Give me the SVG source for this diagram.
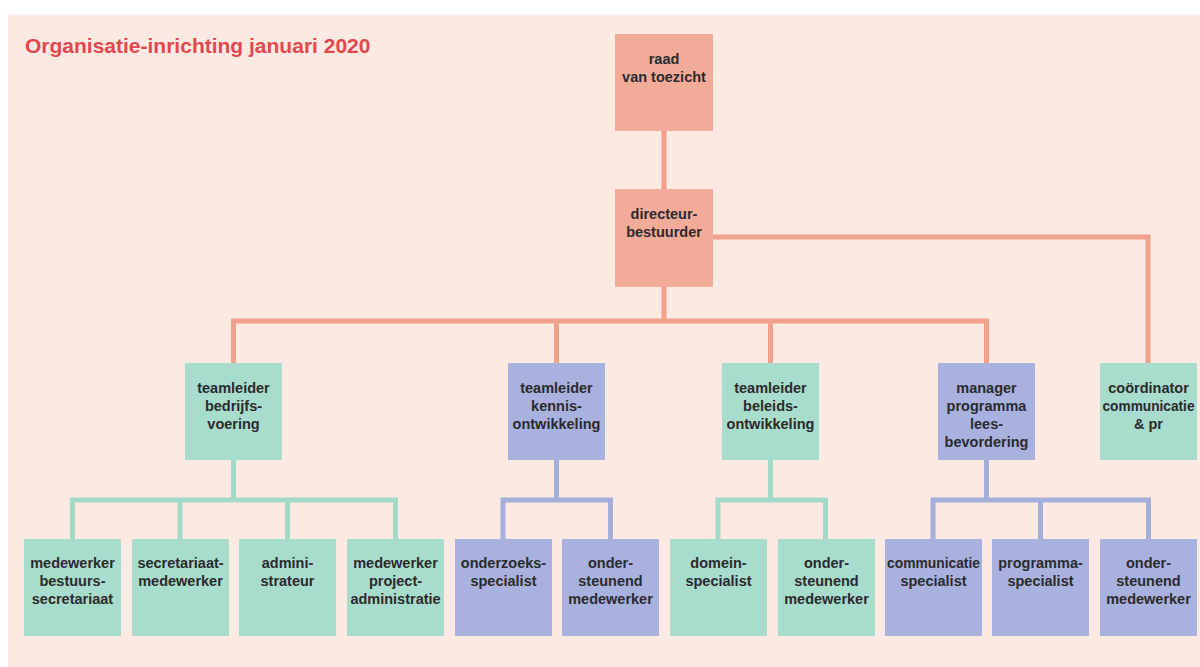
<svg xmlns="http://www.w3.org/2000/svg" width="1200" height="667" viewBox="0 0 1200 667">
<style>
.bg{fill:#fce9e2}
.title{font-family:"Liberation Sans",Arial,sans-serif;font-weight:bold;font-size:21px;fill:#e4484e}
.s{fill:#f3ab99}
.t{fill:#a8dccd}
.b{fill:#a9b2de}
.lbl{font-family:"Liberation Sans",Arial,sans-serif;font-weight:bold;font-size:14.5px;fill:#2b2a2c;text-anchor:middle}
.co{stroke:#f0a08d;stroke-width:5;fill:none}
.ct{stroke:#a3d9c9;stroke-width:5;fill:none}
.cb{stroke:#a5afdc;stroke-width:5;fill:none}
</style>
<rect x="0" y="0" width="1200" height="667" fill="#ffffff"/>
<rect class="bg" x="8" y="15" width="1192" height="652"/>
<text class="title" x="25" y="53">Organisatie-inrichting januari 2020</text>

<g id="connectors">
<path class="co" d="M664 131V189"/>
<path class="co" d="M664 287V321"/>
<path class="co" d="M233.5 363V321H986.5V363"/>
<path class="co" d="M556.5 321V363"/>
<path class="co" d="M770.5 321V363"/>
<path class="co" d="M713 237H1148V363"/>
<path class="ct" d="M233.5 460V500"/>
<path class="ct" d="M72.5 539V500H395.5V539"/>
<path class="ct" d="M180 500V539"/>
<path class="ct" d="M287.5 500V539"/>
<path class="cb" d="M556.5 460V500"/>
<path class="cb" d="M503 539V500H610.5V539"/>
<path class="ct" d="M770.5 460V500"/>
<path class="ct" d="M718 539V500H825.5V539"/>
<path class="cb" d="M986.5 460V500"/>
<path class="cb" d="M933 539V500H1148.5V539"/>
<path class="cb" d="M1040.5 500V539"/>
</g>

<g id="raad">
<rect class="s" x="615" y="34" width="98" height="97"/>
<text class="lbl" x="664" y="64">raad</text>
<text class="lbl" x="664" y="82">van toezicht</text>
</g>
<g id="directeur">
<rect class="s" x="615" y="189" width="98" height="98"/>
<text class="lbl" x="664" y="219">directeur-</text>
<text class="lbl" x="664" y="237">bestuurder</text>
</g>

<g id="tl-bedrijfsvoering">
<rect class="t" x="185" y="363" width="97" height="97"/>
<text class="lbl" x="233.5" y="393">teamleider</text>
<text class="lbl" x="233.5" y="411">bedrijfs-</text>
<text class="lbl" x="233.5" y="429">voering</text>
</g>
<g id="tl-kennis">
<rect class="b" x="508" y="363" width="97" height="97"/>
<text class="lbl" x="556.5" y="393">teamleider</text>
<text class="lbl" x="556.5" y="411">kennis-</text>
<text class="lbl" x="556.5" y="429">ontwikkeling</text>
</g>
<g id="tl-beleids">
<rect class="t" x="722" y="363" width="97" height="97"/>
<text class="lbl" x="770.5" y="393">teamleider</text>
<text class="lbl" x="770.5" y="411">beleids-</text>
<text class="lbl" x="770.5" y="429">ontwikkeling</text>
</g>
<g id="manager">
<rect class="b" x="938" y="363" width="97" height="97"/>
<text class="lbl" x="986.5" y="393">manager</text>
<text class="lbl" x="986.5" y="411">programma</text>
<text class="lbl" x="986.5" y="429">lees-</text>
<text class="lbl" x="986.5" y="447">bevordering</text>
</g>
<g id="coordinator">
<rect class="t" x="1100" y="363" width="97" height="97"/>
<text class="lbl" x="1148.5" y="393">coördinator</text>
<text class="lbl" x="1148.5" y="411" textLength="92" lengthAdjust="spacingAndGlyphs">communicatie</text>
<text class="lbl" x="1148.5" y="429">&amp; pr</text>
</g>

<g id="mw-bestuurssecretariaat">
<rect class="t" x="24" y="539" width="97" height="97"/>
<text class="lbl" x="72.5" y="568">medewerker</text>
<text class="lbl" x="72.5" y="586">bestuurs-</text>
<text class="lbl" x="72.5" y="604">secretariaat</text>
</g>
<g id="secretariaatmedewerker">
<rect class="t" x="132" y="539" width="97" height="97"/>
<text class="lbl" x="180.5" y="568">secretariaat-</text>
<text class="lbl" x="180.5" y="586">medewerker</text>
</g>
<g id="administrateur">
<rect class="t" x="239" y="539" width="97" height="97"/>
<text class="lbl" x="287.5" y="568">admini-</text>
<text class="lbl" x="287.5" y="586">strateur</text>
</g>
<g id="mw-projectadministratie">
<rect class="t" x="347" y="539" width="97" height="97"/>
<text class="lbl" x="395.5" y="568">medewerker</text>
<text class="lbl" x="395.5" y="586">project-</text>
<text class="lbl" x="395.5" y="604">administratie</text>
</g>
<g id="onderzoeksspecialist">
<rect class="b" x="455" y="539" width="97" height="97"/>
<text class="lbl" x="503.5" y="568">onderzoeks-</text>
<text class="lbl" x="503.5" y="586">specialist</text>
</g>
<g id="ondersteunend-kennis">
<rect class="b" x="562" y="539" width="97" height="97"/>
<text class="lbl" x="610.5" y="568">onder-</text>
<text class="lbl" x="610.5" y="586">steunend</text>
<text class="lbl" x="610.5" y="604">medewerker</text>
</g>
<g id="domeinspecialist">
<rect class="t" x="670" y="539" width="97" height="97"/>
<text class="lbl" x="718.5" y="568">domein-</text>
<text class="lbl" x="718.5" y="586">specialist</text>
</g>
<g id="ondersteunend-beleids">
<rect class="t" x="778" y="539" width="97" height="97"/>
<text class="lbl" x="826.5" y="568">onder-</text>
<text class="lbl" x="826.5" y="586">steunend</text>
<text class="lbl" x="826.5" y="604">medewerker</text>
</g>
<g id="communicatiespecialist">
<rect class="b" x="885" y="539" width="97" height="97"/>
<text class="lbl" x="933.5" y="568" textLength="93" lengthAdjust="spacingAndGlyphs">communicatie</text>
<text class="lbl" x="933.5" y="586">specialist</text>
</g>
<g id="programmaspecialist">
<rect class="b" x="992" y="539" width="97" height="97"/>
<text class="lbl" x="1040.5" y="568">programma-</text>
<text class="lbl" x="1040.5" y="586">specialist</text>
</g>
<g id="ondersteunend-programma">
<rect class="b" x="1100" y="539" width="97" height="97"/>
<text class="lbl" x="1148.5" y="568">onder-</text>
<text class="lbl" x="1148.5" y="586">steunend</text>
<text class="lbl" x="1148.5" y="604">medewerker</text>
</g>
</svg>
